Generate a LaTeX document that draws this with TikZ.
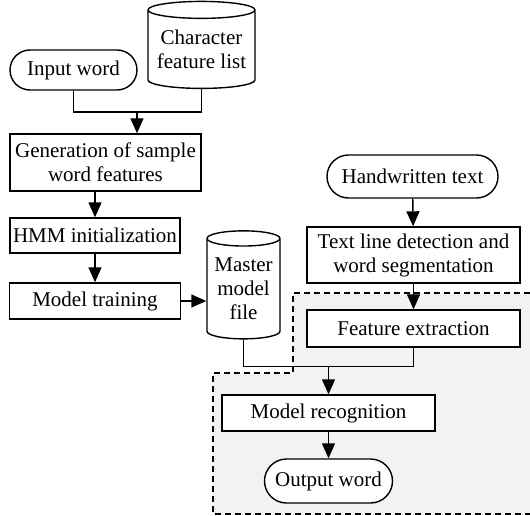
\documentclass[tikz,border=0pt]{standalone}
\usepackage{fontspec}
\setmainfont{Liberation Serif}
\usetikzlibrary{arrows.meta,shapes.geometric,shapes.misc}

\begin{document}
\begin{tikzpicture}[x=1pt, y=-1pt, line width=1.4pt,
  every node/.style={font=\fontsize{21}{24}\selectfont, align=center, inner sep=0pt},
  bx/.style={draw, fill=white, minimum width=213pt, minimum height=36pt},
  term/.style={draw, fill=white, rounded rectangle, minimum height=42pt},
  db/.style={draw, fill=white, cylinder, shape border rotate=90, aspect=0.19},
  arr/.style={-{Triangle[length=15pt,width=13pt]}}]
\useasboundingbox (0,0) rectangle (530,516);
\fill[gray!10] (293,293) -- (540,293) -- (540,514) -- (213,514) -- (213,373) -- (293,373) -- cycle;
\draw[line width=1.1pt, dash pattern=on 6pt off 4pt] (540,293) -- (293,293) -- (293,373) -- (213,373) -- (213,514) -- (540,514);
\node[term, minimum width=127pt, minimum height=40pt] (input) at (73.5,70) {Input word};
\node[db, minimum width=107pt, minimum height=87pt] (charlist) at (201.5,49.5) {Character\\feature list};
\node[bx, minimum width=191pt, minimum height=57pt] (gen) at (105.5,162.5) {Generation of sample\\word features};
\node[bx, minimum width=170pt, minimum height=35pt] (hmm) at (95,235.5) {HMM initialization};
\node[bx, minimum width=171pt] (train) at (95,301) {Model training};
\node[db, aspect=0.26, minimum width=73pt, minimum height=108pt] (master) at (243.5,289) {Master\\model\\file};
\node[term, minimum width=171pt, minimum height=43pt] (hand) at (412.5,176.5) {Handwritten text};
\node[bx, minimum height=56pt] (textline) at (413.5,255) {Text line detection and\\word segmentation};
\node[bx, minimum height=37pt] (feat) at (413.5,328.5) {Feature extraction};
\node[bx] (recog) at (328.5,413) {Model recognition};
\node[term, minimum width=128pt, minimum height=44pt] (output) at (328.5,481) {Output word};
\coordinate (cj) at (137,112);
\path (recog.north) ++(0,-28) coordinate (mj);
\draw (input.south) |- (cj);
\draw (charlist.south) |- (cj);
\draw[arr] (cj) -- (cj |- gen.north);
\draw[arr] (hmm.north |- gen.south) -- (hmm.north);
\draw[arr] (hmm) -- (train);
\draw[arr] (train.east) -- (train.east -| master.west);
\draw[arr] (hand) -- (textline);
\draw[arr] (textline) -- (feat);
\draw (feat.south) |- (mj);
\draw (master.south) |- (mj);
\draw[arr] (mj) -- (recog.north);
\draw[arr] (recog) -- (output);
\end{tikzpicture}
\end{document}
